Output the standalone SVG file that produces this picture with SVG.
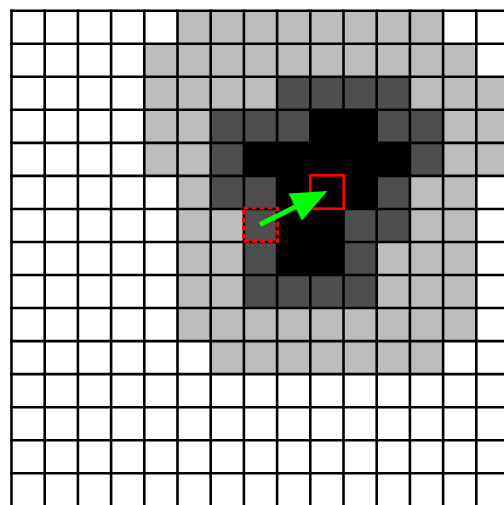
<svg xmlns="http://www.w3.org/2000/svg" width="504" height="505" viewBox="0 0 504 505">
  <style>
    .lg { fill: #bcbcbc; }
    .dg { fill: #4e4e4e; }
    .bk { fill: #000000; }
    .grid line { stroke: #000; stroke-width: 2.6; }
  </style>
  <rect x="0" y="0" width="504" height="505" fill="#ffffff"/>
  <g id="cells" transform="translate(11.5,10.7) scale(33.2,33.04)">
    <rect class="lg" x="5" y="0" width="8" height="1"/>
    <rect class="lg" x="4" y="1" width="10" height="1"/>
    <rect class="lg" x="4" y="2" width="4" height="1"/>
    <rect class="lg" x="12" y="2" width="3" height="1"/>
    <rect class="lg" x="4" y="3" width="2" height="2"/>
    <rect class="lg" x="13" y="3" width="2" height="2"/>
    <rect class="lg" x="5" y="5" width="1" height="1"/>
    <rect class="lg" x="12" y="5" width="2" height="2"/>
    <rect class="lg" x="5" y="6" width="2" height="3"/>
    <rect class="lg" x="11" y="7" width="3" height="2"/>
    <rect class="lg" x="5" y="9" width="9" height="1"/>
    <rect class="lg" x="6" y="10" width="7" height="1"/>
    <rect class="dg" x="8" y="2" width="4" height="1"/>
    <rect class="dg" x="6" y="3" width="3" height="1"/>
    <rect class="dg" x="11" y="3" width="2" height="1"/>
    <rect class="dg" x="6" y="4" width="1" height="1"/>
    <rect class="dg" x="12" y="4" width="1" height="1"/>
    <rect class="dg" x="6" y="5" width="2" height="1"/>
    <rect class="dg" x="11" y="5" width="1" height="1"/>
    <rect class="dg" x="7" y="6" width="1" height="2"/>
    <rect class="dg" x="10" y="6" width="2" height="1"/>
    <rect class="dg" x="10" y="7" width="1" height="1"/>
    <rect class="dg" x="7" y="8" width="4" height="1"/>
    <rect class="bk" x="9" y="3" width="2" height="1"/>
    <rect class="bk" x="7" y="4" width="5" height="1"/>
    <rect class="bk" x="8" y="5" width="3" height="1"/>
    <rect class="bk" x="8" y="6" width="2" height="2"/>
  </g>
  <g id="grid" class="grid">
    <line x1="11.5" y1="9.4" x2="11.5" y2="510"/>
    <line x1="44.7" y1="9.4" x2="44.7" y2="510"/>
    <line x1="77.9" y1="9.4" x2="77.9" y2="510"/>
    <line x1="111.1" y1="9.4" x2="111.1" y2="510"/>
    <line x1="144.3" y1="9.4" x2="144.3" y2="510"/>
    <line x1="177.5" y1="9.4" x2="177.5" y2="510"/>
    <line x1="210.7" y1="9.4" x2="210.7" y2="510"/>
    <line x1="243.9" y1="9.4" x2="243.9" y2="510"/>
    <line x1="277.1" y1="9.4" x2="277.1" y2="510"/>
    <line x1="310.3" y1="9.4" x2="310.3" y2="510"/>
    <line x1="343.5" y1="9.4" x2="343.5" y2="510"/>
    <line x1="376.7" y1="9.4" x2="376.7" y2="510"/>
    <line x1="409.9" y1="9.4" x2="409.9" y2="510"/>
    <line x1="443.1" y1="9.4" x2="443.1" y2="510"/>
    <line x1="476.3" y1="9.4" x2="476.3" y2="510"/>
    <line x1="10.2" y1="10.7" x2="510" y2="10.7"/>
    <line x1="10.2" y1="43.74" x2="510" y2="43.74"/>
    <line x1="10.2" y1="76.78" x2="510" y2="76.78"/>
    <line x1="10.2" y1="109.82" x2="510" y2="109.82"/>
    <line x1="10.2" y1="142.86" x2="510" y2="142.86"/>
    <line x1="10.2" y1="175.9" x2="510" y2="175.9"/>
    <line x1="10.2" y1="208.94" x2="510" y2="208.94"/>
    <line x1="10.2" y1="241.98" x2="510" y2="241.98"/>
    <line x1="10.2" y1="275.02" x2="510" y2="275.02"/>
    <line x1="10.2" y1="308.06" x2="510" y2="308.06"/>
    <line x1="10.2" y1="341.1" x2="510" y2="341.1"/>
    <line x1="10.2" y1="374.14" x2="510" y2="374.14"/>
    <line x1="10.2" y1="407.18" x2="510" y2="407.18"/>
    <line x1="10.2" y1="440.22" x2="510" y2="440.22"/>
    <line x1="10.2" y1="473.26" x2="510" y2="473.26"/>
  </g>
  <g id="markers">
    <rect id="target" x="310.3" y="175.3" width="33.4" height="33.4" fill="none" stroke="#ff0000" stroke-width="2.7"/>
    <rect id="source" x="243.6" y="208" width="34" height="33.4" fill="none" stroke="#ff0000" stroke-width="2.7" stroke-dasharray="5,3"/>
  </g>
  <g id="connectors">
    <polygon points="258.89,222.26 294.14,204.76 288.58,193.56 327.5,191 301.92,220.44 296.36,209.24 261.11,226.74" fill="#00ff00"/>
  </g>
</svg>
